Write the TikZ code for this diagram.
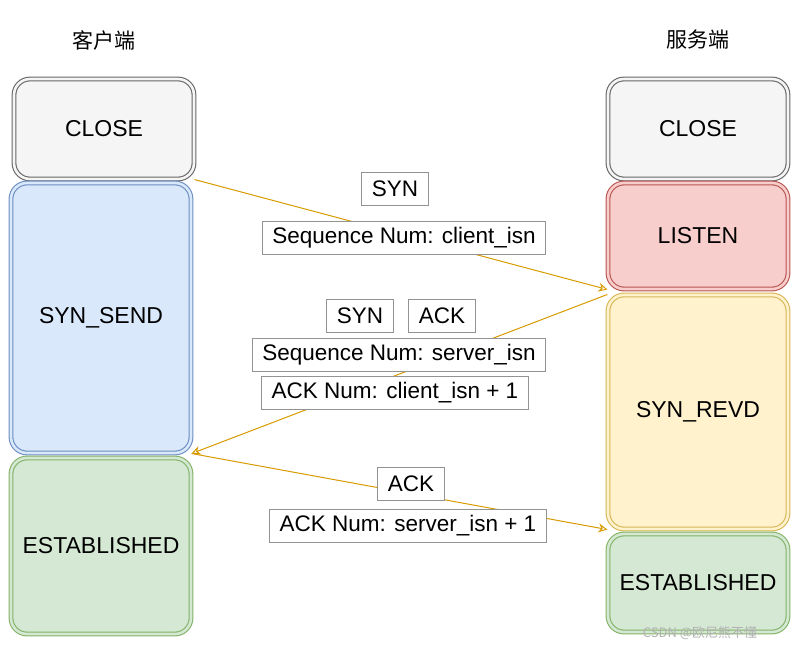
\documentclass[tikz,border=0pt]{standalone}
\usepackage{fontspec}
\setmainfont{Liberation Sans}
\newfontfamily\cjk{Noto Sans CJK SC}
\usetikzlibrary{arrows.meta}
\definecolor{arrowc}{HTML}{D79B00}
\definecolor{grayd}{HTML}{666666}\definecolor{grayf}{HTML}{F5F5F5}
\definecolor{blued}{HTML}{6C8EBF}\definecolor{bluef}{HTML}{DAE8FC}
\definecolor{redd}{HTML}{B85450}\definecolor{redf}{HTML}{F8CECC}
\definecolor{yeld}{HTML}{D6B656}\definecolor{yelf}{HTML}{FFF2CC}
\definecolor{grnd}{HTML}{82B366}\definecolor{grnf}{HTML}{D5E8D4}
\tikzset{
    st/.style n args={3}{draw=#1, double=#2, fill=#2, line width=1.1pt, double distance=2.6pt,
        rounded corners=16pt, minimum width=180, minimum height=#3, inner sep=0pt, font=\fontsize{23}{27}\selectfont},
    lbl/.style={draw=gray!85, fill=white, line width=0.9pt, minimum height=33, inner xsep=10, font=\fontsize{22.5}{26}\selectfont},
    msg/.style={arrowc, line width=1pt, -{Stealth[open, length=9pt, width=9pt]}}
}
\begin{document}
\begin{tikzpicture}[x=1pt, y=-1pt]
    \useasboundingbox (0,0) rectangle (801,652);
    % titles
    \node[font=\cjk\fontsize{21}{25}\selectfont] (tc) at (104,40) {客户端};
    \node[font=\cjk\fontsize{21}{25}\selectfont] (ts) at (698,40) {服务端};
    % client
    \node[st={grayd}{grayf}{100}] (cclose) at (104,129) {CLOSE};
    \node[st={blued}{bluef}{270}] (csend) at (101,318) {SYN\_SEND};
    \node[st={grnd}{grnf}{176}] (cest) at (101,546) {ESTABLISHED};
    % server
    \node[st={grayd}{grayf}{100}] (sclose) at (698,129) {CLOSE};
    \node[st={redd}{redf}{106}] (slisten) at (698,236) {LISTEN};
    \node[st={yeld}{yelf}{234}] (srevd) at (698,412) {SYN\_REVD};
    \node[st={grnd}{grnf}{98}] (sest) at (698,583) {ESTABLISHED};
    % messages
    \draw[msg] (cclose.south east) -- (slisten.south west);
    \draw[msg] (srevd.north west) -- (csend.south east);
    \draw[msg] (csend.south east) -- (srevd.south west);
    % labels
    \node[lbl] (syn1) at (395,189) {SYN};
    \node[lbl] (seq1) at (404,238) {Sequence Num: client\_isn};
    \node[lbl] (syn2) at (360,316) {SYN};
    \node[lbl] (ack2) at (442,316) {ACK};
    \node[lbl] (seq2) at (399,355) {Sequence Num: server\_isn};
    \node[lbl] (num2) at (395,393) {ACK Num: client\_isn + 1};
    \node[lbl] (ack3) at (411,484) {ACK};
    \node[lbl] (num3) at (408,526) {ACK Num: server\_isn + 1};
    % watermark
    \node[gray!60, font=\cjk\fontsize{13}{15}\selectfont] (wm) at (700,633) {CSDN @欧尼熊不懂};
\end{tikzpicture}
\end{document}
